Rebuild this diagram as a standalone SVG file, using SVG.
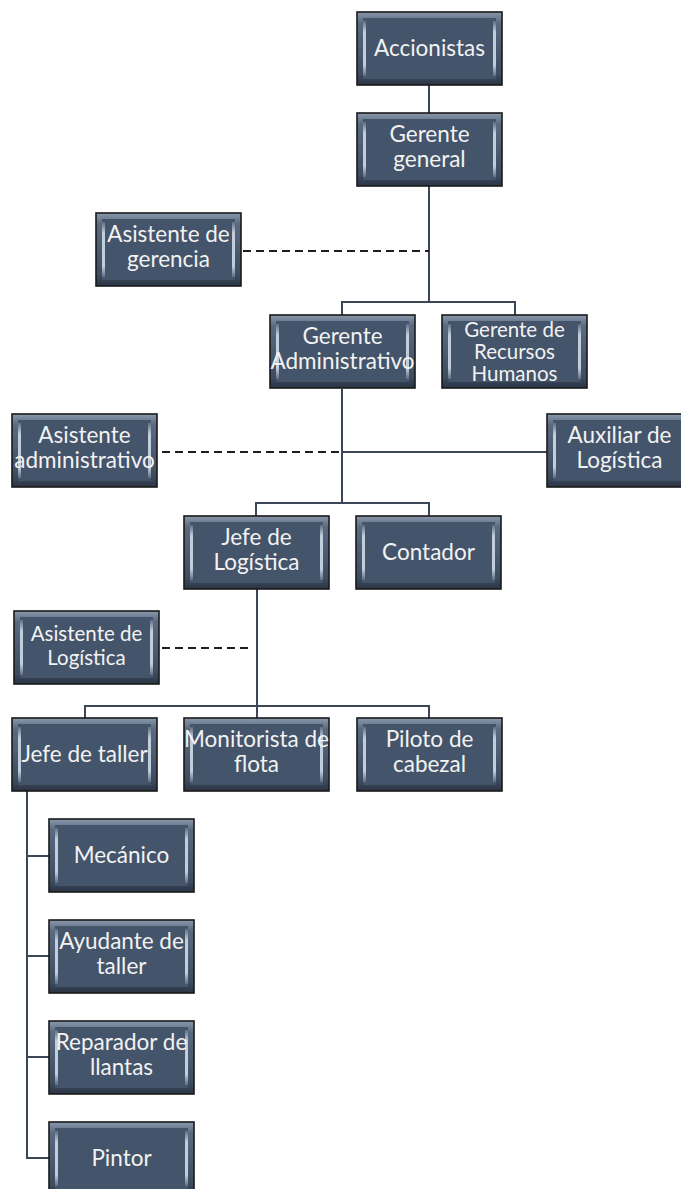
<svg xmlns="http://www.w3.org/2000/svg" xmlns:xlink="http://www.w3.org/1999/xlink" width="681" height="1189" viewBox="0 0 681 1189">
<style>
.t{font-family:Lato,"Liberation Sans",sans-serif;font-size:22.5px;fill:#f2f2f2;text-anchor:middle}
.s{font-size:20.5px}
.ln{fill:none;stroke:#3b4657;stroke-width:2}
.dash{fill:none;stroke:#1e1e1e;stroke-width:2;stroke-dasharray:8 5}
</style>
<defs>
<linearGradient id="rim" x1="0" y1="0" x2="0" y2="1">
<stop offset="0" stop-color="#8a98ac"/>
<stop offset="0.15" stop-color="#5a6a80"/>
<stop offset="0.85" stop-color="#3e4c60"/>
<stop offset="1" stop-color="#2a3444"/>
</linearGradient>
<linearGradient id="hl" x1="0" y1="0" x2="0" y2="1">
<stop offset="0" stop-color="#c9d4e2" stop-opacity="0.2"/>
<stop offset="0.2" stop-color="#c9d4e2" stop-opacity="0.95"/>
<stop offset="0.8" stop-color="#c9d4e2" stop-opacity="0.95"/>
<stop offset="1" stop-color="#c9d4e2" stop-opacity="0.2"/>
</linearGradient>
<g id="box">
<rect x="0" y="0" width="145" height="73" fill="url(#rim)" stroke="#1a1a1a" stroke-width="1.6"/>
<rect x="6" y="6" width="133" height="61" fill="#44546a"/>
<rect x="6" y="9" width="3" height="55" fill="url(#hl)"/>
<rect x="136" y="9" width="3" height="55" fill="url(#hl)"/>
</g>
</defs>
<rect width="681" height="1189" fill="#ffffff"/>
<g id="connectors">
<path class="ln" d="M429 84V113"/>
<path class="ln" d="M429 185V302"/>
<path class="dash" d="M243 251H429"/>
<path class="ln" d="M342 315V302H515V315"/>
<path class="ln" d="M342 389V503"/>
<path class="dash" d="M162 452H342"/>
<path class="ln" d="M342 452H547"/>
<path class="ln" d="M256 516V503H429V516"/>
<path class="ln" d="M257 589V706"/>
<path class="dash" d="M162 648H253"/>
<path class="ln" d="M85 718V706H429V718M257 706V718"/>
<path class="ln" d="M27 790V1158H49M27 856H49M27 956H49M27 1057H49"/>
</g>
<g id="n-accionistas" transform="translate(357,12)"><use xlink:href="#box"/><text class="t" x="72.5" y="44">Accionistas</text></g>
<g id="n-gerente-general" transform="translate(357,113)"><use xlink:href="#box"/><text class="t" x="72.5" y="29">Gerente</text><text class="t" x="72.5" y="54">general</text></g>
<g id="n-asistente-gerencia" transform="translate(96,213)"><use xlink:href="#box"/><text class="t" x="72.5" y="29">Asistente de</text><text class="t" x="72.5" y="54">gerencia</text></g>
<g id="n-gerente-administrativo" transform="translate(270,315)"><use xlink:href="#box"/><text class="t" x="72.5" y="29">Gerente</text><text class="t" x="72.5" y="54">Administrativo</text></g>
<g id="n-gerente-rrhh" transform="translate(442,315)"><use xlink:href="#box"/><text class="t s" x="72.5" y="21.5">Gerente de</text><text class="t s" x="72.5" y="43.5">Recursos</text><text class="t s" x="72.5" y="65.5">Humanos</text></g>
<g id="n-asistente-administrativo" transform="translate(12,414)"><use xlink:href="#box"/><text class="t" x="72.5" y="29">Asistente</text><text class="t" x="72.5" y="54">administrativo</text></g>
<g id="n-auxiliar-logistica" transform="translate(547,414)"><use xlink:href="#box"/><text class="t" x="72.5" y="29">Auxiliar de</text><text class="t" x="72.5" y="54">Logística</text></g>
<g id="n-jefe-logistica" transform="translate(184,516)"><use xlink:href="#box"/><text class="t" x="72.5" y="29">Jefe de</text><text class="t" x="72.5" y="54">Logística</text></g>
<g id="n-contador" transform="translate(356,516)"><use xlink:href="#box"/><text class="t" x="72.5" y="44">Contador</text></g>
<g id="n-asistente-logistica" transform="translate(14,611)"><use xlink:href="#box"/><text class="t s" x="72.5" y="30">Asistente de</text><text class="t s" x="72.5" y="54">Logística</text></g>
<g id="n-jefe-taller" transform="translate(12,718)"><use xlink:href="#box"/><text class="t" x="72.5" y="44">Jefe de taller</text></g>
<g id="n-monitorista" transform="translate(184,718)"><use xlink:href="#box"/><text class="t" x="72.5" y="29">Monitorista de</text><text class="t" x="72.5" y="54">flota</text></g>
<g id="n-piloto" transform="translate(357,718)"><use xlink:href="#box"/><text class="t" x="72.5" y="29">Piloto de</text><text class="t" x="72.5" y="54">cabezal</text></g>
<g id="n-mecanico" transform="translate(49,819)"><use xlink:href="#box"/><text class="t" x="72.5" y="44">Mecánico</text></g>
<g id="n-ayudante" transform="translate(49,920)"><use xlink:href="#box"/><text class="t" x="72.5" y="29">Ayudante de</text><text class="t" x="72.5" y="54">taller</text></g>
<g id="n-reparador" transform="translate(49,1021)"><use xlink:href="#box"/><text class="t" x="72.5" y="29">Reparador de</text><text class="t" x="72.5" y="54">llantas</text></g>
<g id="n-pintor" transform="translate(49,1122)"><use xlink:href="#box"/><text class="t" x="72.5" y="44">Pintor</text></g>
</svg>
